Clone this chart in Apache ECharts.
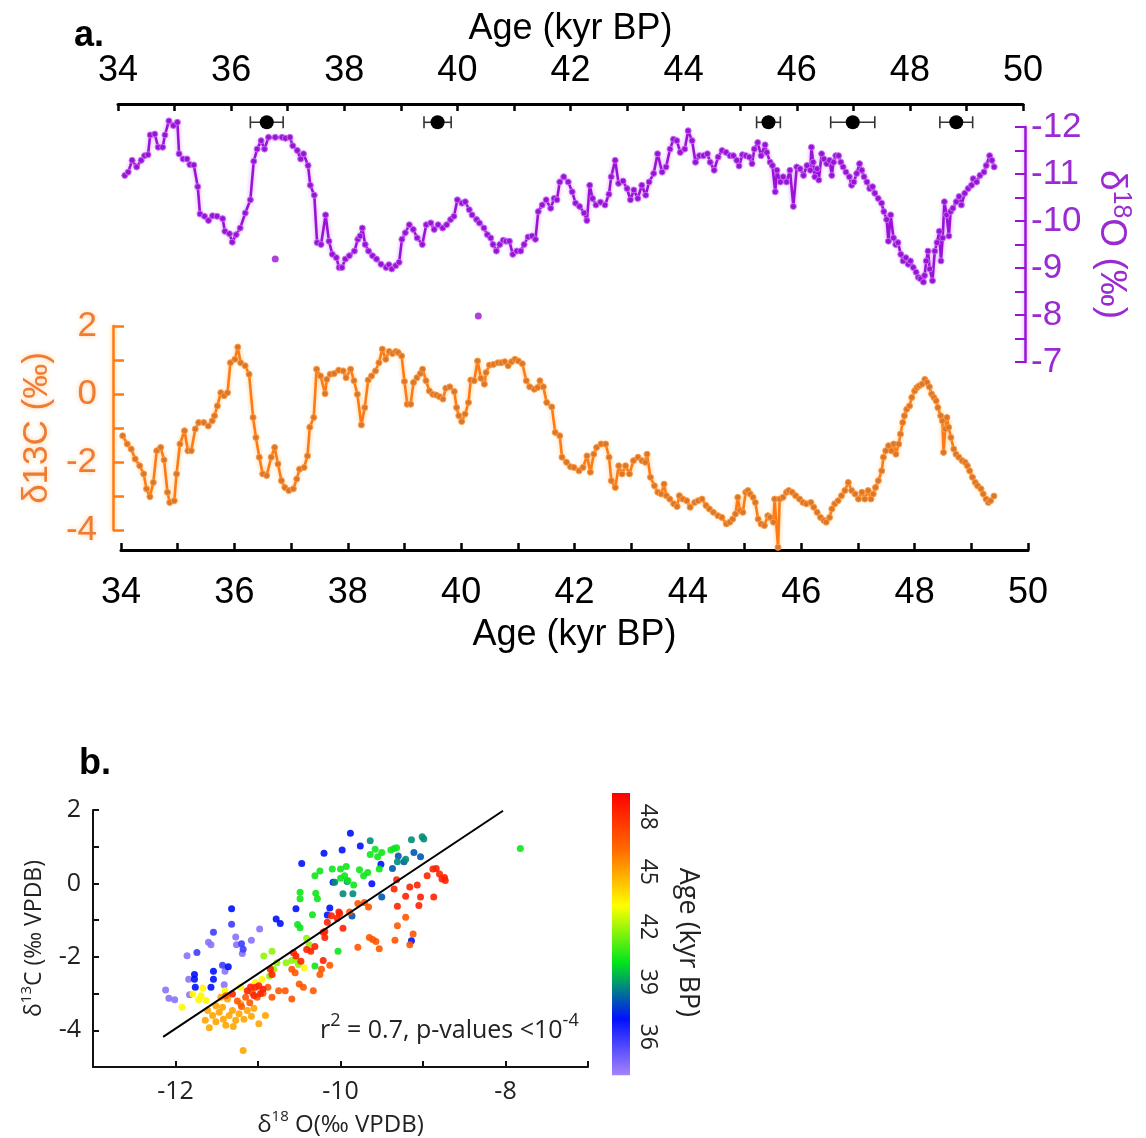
<!DOCTYPE html>
<html><head><meta charset="utf-8">
<script src="https://cdn.jsdelivr.net/npm/echarts@6/dist/echarts.min.js"></script>
<style>html,body{margin:0;padding:0;background:#fff}#c{width:1146px;height:1138px}</style>
</head><body><div id="c"></div>
<script>
// ---------- DATA ----------
// panel a: d18O (purple) time series
const o18Age = [34.12,34.18,34.25,34.33,34.41,34.47,34.53,34.57,34.65,34.71,34.79,34.83,34.90,34.98,35.05,35.08,35.15,35.22,35.27,35.34,35.41,35.45,35.53,35.60,35.67,35.75,35.85,35.89,35.97,36.02,36.09,36.16,36.25,36.34,36.40,36.46,36.53,36.59,36.66,36.78,36.90,36.96,37.04,37.09,37.17,37.23,37.28,37.36,37.40,37.47,37.52,37.59,37.67,37.73,37.79,37.86,37.91,37.96,38.02,38.09,38.18,38.24,38.28,38.32,38.37,38.43,38.50,38.57,38.65,38.74,38.79,38.84,38.91,38.97,39.02,39.08,39.15,39.22,39.29,39.38,39.45,39.53,39.59,39.66,39.74,39.81,39.88,39.94,40.00,40.08,40.14,40.21,40.26,40.34,40.39,40.47,40.53,40.59,40.63,40.69,40.75,40.81,40.86,40.92,40.98,41.05,41.12,41.18,41.25,41.32,41.38,41.43,41.50,41.57,41.65,41.71,41.76,41.81,41.88,41.96,42.03,42.09,42.16,42.24,42.29,42.34,42.39,42.45,42.53,42.61,42.68,42.72,42.79,42.85,42.93,43.00,43.06,43.12,43.19,43.26,43.33,43.39,43.47,43.54,43.62,43.69,43.76,43.82,43.88,43.94,44.02,44.08,44.15,44.21,44.28,44.35,44.42,44.47,44.54,44.61,44.68,44.75,44.82,44.88,44.94,44.98,45.04,45.10,45.16,45.21,45.25,45.31,45.37,45.44,45.47,45.53,45.57,45.62,45.65,45.71,45.76,45.82,45.88,45.94,46.00,46.06,46.12,46.18,46.24,46.26,46.29,46.32,46.36,46.39,46.44,46.48,46.53,46.58,46.62,46.65,46.69,46.74,46.78,46.82,46.87,46.93,46.97,47.01,47.06,47.11,47.15,47.19,47.24,47.29,47.34,47.38,47.44,47.50,47.54,47.59,47.62,47.66,47.71,47.75,47.79,47.84,47.88,47.93,47.97,48.01,48.06,48.11,48.15,48.19,48.24,48.26,48.29,48.32,48.35,48.40,48.44,48.48,48.52,48.55,48.58,48.61,48.65,48.69,48.72,48.76,48.82,48.87,48.91,48.97,49.03,49.09,49.12,49.18,49.24,49.31,49.35,49.41,49.45,49.49];
const o18Val = [-10.97,-11.04,-11.29,-11.15,-11.29,-11.39,-11.41,-11.83,-11.85,-11.57,-11.57,-11.83,-12.13,-12.03,-12.10,-11.43,-11.32,-11.32,-11.20,-11.19,-10.73,-10.15,-10.10,-10.01,-10.11,-10.10,-10.05,-9.78,-9.73,-9.55,-9.71,-9.85,-10.17,-10.45,-11.27,-11.53,-11.71,-11.53,-11.78,-11.78,-11.78,-11.76,-11.78,-11.60,-11.50,-11.32,-11.43,-11.18,-10.76,-10.55,-9.54,-9.50,-10.13,-9.57,-9.29,-9.22,-9.01,-9.01,-9.19,-9.26,-9.36,-9.61,-9.68,-9.85,-9.50,-9.36,-9.26,-9.19,-9.08,-9.01,-9.07,-8.98,-9.05,-9.12,-9.61,-9.75,-9.92,-9.82,-9.64,-9.50,-9.92,-9.96,-9.82,-9.92,-9.85,-9.92,-10.03,-10.10,-10.45,-10.38,-10.41,-10.24,-10.13,-10.03,-9.96,-9.85,-9.71,-9.64,-9.50,-9.36,-9.50,-9.59,-9.57,-9.57,-9.29,-9.36,-9.36,-9.50,-9.66,-9.68,-9.61,-10.20,-10.34,-10.45,-10.27,-10.48,-10.45,-10.83,-10.94,-10.83,-10.62,-10.38,-10.31,-10.17,-10.01,-10.76,-10.48,-10.34,-10.40,-10.34,-10.57,-10.94,-11.29,-10.80,-10.85,-10.69,-10.45,-10.66,-10.48,-10.76,-10.55,-10.83,-11.01,-11.43,-11.04,-11.15,-11.53,-11.74,-11.71,-11.46,-11.53,-11.92,-11.71,-11.25,-11.39,-11.39,-11.43,-11.25,-11.08,-11.36,-11.50,-11.46,-11.39,-11.39,-11.29,-11.17,-11.41,-11.39,-11.36,-11.22,-11.53,-11.67,-11.39,-11.62,-11.46,-11.25,-11.18,-10.62,-11.08,-10.83,-10.94,-10.83,-11.08,-10.31,-11.15,-11.11,-10.97,-11.18,-11.08,-11.57,-11.25,-10.94,-11.11,-10.87,-11.43,-11.32,-11.22,-11.29,-10.97,-11.25,-11.39,-11.39,-11.25,-11.15,-11.04,-10.94,-10.76,-10.83,-11.01,-11.22,-11.08,-10.94,-10.83,-10.69,-10.73,-10.59,-10.48,-10.38,-10.20,-10.03,-9.57,-10.13,-9.64,-9.50,-9.54,-9.29,-9.15,-9.22,-9.08,-9.15,-9.01,-8.91,-8.80,-8.77,-8.70,-8.84,-9.15,-9.36,-8.98,-8.73,-9.36,-9.54,-9.78,-9.15,-9.64,-10.41,-10.13,-9.68,-10.20,-10.27,-10.41,-10.52,-10.34,-10.59,-10.69,-10.76,-10.90,-10.83,-10.97,-11.04,-11.18,-11.39,-11.29,-11.15];
// isolated d18O samples (not joined to the line)
const o18OutAge = [36.78, 40.37];
const o18OutVal = [-9.19, -7.98];
// U-Th dated ages with 2-sigma errors
const datedAge = [36.63, 39.65, 45.50, 46.99, 48.82];
const datedErr = [0.29, 0.24, 0.21, 0.39, 0.29];
// panel a: d13C (orange) time series
const c13Age = [34.03,34.11,34.18,34.25,34.33,34.40,34.45,34.51,34.57,34.63,34.70,34.76,34.82,34.86,34.94,34.98,35.04,35.12,35.18,35.24,35.31,35.37,35.46,35.54,35.61,35.65,35.70,35.76,35.82,35.88,35.93,36.01,36.06,36.11,36.19,36.26,36.33,36.38,36.44,36.50,36.57,36.65,36.71,36.77,36.83,36.89,36.96,37.04,37.10,37.15,37.23,37.29,37.33,37.40,37.45,37.52,37.60,37.63,37.69,37.76,37.84,37.92,37.97,38.05,38.11,38.17,38.24,38.30,38.36,38.42,38.49,38.55,38.61,38.67,38.73,38.79,38.85,38.89,38.95,39.00,39.05,39.11,39.16,39.22,39.28,39.32,39.38,39.44,39.50,39.56,39.62,39.68,39.73,39.80,39.88,39.92,39.96,40.01,40.07,40.13,40.17,40.23,40.29,40.35,40.41,40.44,40.50,40.57,40.65,40.71,40.77,40.83,40.89,40.95,41.01,41.08,41.15,41.21,41.29,41.35,41.39,41.45,41.51,41.60,41.66,41.74,41.78,41.86,41.93,41.99,42.08,42.15,42.22,42.28,42.34,42.39,42.47,42.55,42.61,42.65,42.72,42.78,42.84,42.90,42.97,43.04,43.12,43.19,43.25,43.28,43.34,43.41,43.47,43.53,43.58,43.62,43.68,43.75,43.81,43.85,43.91,43.98,44.04,44.12,44.18,44.25,44.32,44.38,44.45,44.53,44.60,44.68,44.74,44.79,44.84,44.88,44.92,44.97,45.02,45.06,45.10,45.15,45.19,45.24,45.29,45.35,45.41,45.45,45.51,45.53,45.59,45.62,45.68,45.74,45.78,45.84,45.90,45.97,46.03,46.09,46.17,46.22,46.28,46.34,46.40,46.44,46.50,46.54,46.59,46.65,46.71,46.77,46.83,46.89,46.95,47.01,47.07,47.12,47.18,47.23,47.27,47.31,47.36,47.42,47.45,47.49,47.54,47.59,47.63,47.67,47.72,47.75,47.79,47.82,47.86,47.91,47.95,48.00,48.04,48.08,48.13,48.18,48.22,48.26,48.30,48.34,48.38,48.41,48.46,48.49,48.51,48.54,48.57,48.60,48.64,48.69,48.73,48.78,48.84,48.89,48.93,48.97,49.02,49.07,49.11,49.17,49.21,49.26,49.30,49.34,49.40];
const c13Val = [-1.23,-1.47,-1.62,-1.91,-2.11,-2.35,-2.79,-3.02,-2.60,-1.67,-1.57,-1.94,-2.89,-3.19,-3.14,-2.35,-1.47,-1.08,-1.67,-1.67,-1.03,-0.84,-0.84,-0.94,-0.79,-0.64,-0.35,0.04,-0.05,0.04,0.92,1.02,1.38,0.92,0.83,0.58,-0.69,-1.28,-1.86,-2.35,-2.40,-1.86,-1.57,-2.06,-2.55,-2.75,-2.84,-2.79,-2.50,-2.21,-2.16,-1.82,-0.98,-0.69,0.73,0.53,0.01,0.43,0.58,0.60,0.70,0.68,0.48,0.73,0.39,-0.01,-0.91,-0.40,0.41,0.53,0.68,0.92,1.32,1.02,1.25,1.19,1.25,1.22,1.12,0.37,-0.30,-0.30,0.34,0.48,0.60,0.73,0.39,0.09,-0.01,-0.03,-0.08,-0.15,0.17,0.21,0.07,-0.40,-0.64,-0.81,-0.59,-0.25,0.41,0.39,0.97,0.46,0.29,0.63,0.85,0.87,0.92,0.92,0.95,0.83,0.95,1.02,0.97,0.89,0.39,0.21,0.14,0.19,0.39,0.21,-0.25,-0.38,-1.13,-1.23,-1.86,-2.01,-2.14,-2.16,-2.26,-2.16,-1.82,-2.30,-1.77,-1.57,-1.47,-1.47,-1.86,-2.55,-2.75,-2.11,-2.35,-2.11,-2.35,-1.96,-1.86,-1.96,-2.01,-1.77,-2.45,-2.70,-2.89,-2.94,-2.65,-2.99,-3.09,-3.23,-3.31,-2.99,-3.09,-3.14,-3.33,-3.19,-3.14,-3.09,-3.28,-3.38,-3.48,-3.58,-3.63,-3.82,-3.77,-3.68,-3.53,-3.04,-3.43,-3.48,-2.89,-2.84,-2.94,-3.04,-3.19,-3.68,-3.82,-3.87,-3.58,-3.63,-3.77,-3.09,-4.51,-3.09,-3.04,-2.89,-2.84,-2.89,-2.99,-3.09,-3.19,-3.23,-3.19,-3.33,-3.48,-3.63,-3.72,-3.77,-3.63,-3.38,-3.23,-3.14,-2.99,-2.84,-2.60,-2.84,-2.94,-3.09,-2.89,-3.09,-2.84,-3.09,-2.94,-2.75,-2.55,-2.26,-1.86,-1.67,-1.52,-1.67,-1.47,-1.77,-1.47,-1.18,-0.84,-0.64,-0.45,-0.35,-0.10,0.09,0.19,0.24,0.29,0.43,0.34,0.21,0.00,-0.10,-0.20,-0.40,-0.64,-0.79,-1.72,-1.03,-0.69,-0.98,-1.28,-1.62,-1.77,-1.86,-1.96,-2.01,-2.11,-2.26,-2.45,-2.60,-2.70,-2.79,-2.94,-3.09,-3.19,-3.14,-3.00];
// panel b: scatter d18O (x), d13C (y), age (colour)
const scO18 = [-12.12,-12.08,-12.01,-11.86,-11.84,-11.83,-11.60,-11.57,-11.41,-11.40,-11.27,-11.26,-11.19,-11.08,-10.98,
 -11.32,-11.74,-11.54,-11.43,-11.20,-11.18,
 -11.77,-11.77,-11.76,-11.54,-11.54,-11.57,-11.36,-11.32,-10.78,-10.73,-10.54,-10.47,-10.20,-10.13,-10.16,-10.09,-9.98,-9.88,-9.76,-9.62,-9.51,-9.14,
 -9.37,-9.30,-9.23,-9.03,-9.11,-9.86,-9.50,
 -9.64,-9.14,-9.01,-8.99,-9.97,-9.85,-10.07,-9.31,-9.21,-9.92,
 -10.31,-10.25,-10.10,-10.00,-9.93,-9.95,-10.00,-9.91,-9.84,-9.77,-9.72,-9.67,-9.64,-9.58,-9.55,-9.50,-9.39,-9.35,-9.32,-10.49,-10.49,-10.30,-10.28,-10.34,-10.52,-10.49,-10.03,-10.31,-7.82,-9.53,
 -10.93,-10.83,-10.77,-10.66,-10.59,-10.51,-10.41,-10.38,-10.54,-10.81,-10.86,
 -11.92,-11.79,-11.69,-11.67,-11.72,-11.63,-11.40,-11.21,-11.03,-10.95,-10.44,
 -11.61,-11.64,-11.59,-11.51,-11.47,-11.43,-11.39,-11.35,-11.31,-11.27,-11.23,-11.21,-11.18,-11.13,-11.08,-10.99,-10.91,-11.37,-11.51,-11.45,-11.55,-11.42,-11.30,-11.17,-11.05,
 -11.39,-11.15,-11.07,-11.01,-10.94,-10.88,-10.83,-10.75,-10.67,-10.59,-10.50,-10.45,-10.33,-10.25,-10.23,-10.13,-10.59,-10.55,-9.79,-9.65,-9.61,-9.57,-9.53,-9.34,-9.31,-9.21,-9.16,-9.12,-9.66,-9.71,-9.79,-9.89,-11.25,-11.20,-11.10,
 -11.31,-11.13,-11.09,-11.03,-10.99,-10.94,-10.85,-10.83,-10.57,-10.54,-10.48,-10.41,-10.36,-10.31,-10.21,-10.19,-10.19,-10.16,-10.11,-10.02,-9.97,-10.04,-10.01,-9.31,-9.21,-9.16,-9.07,-9.03,-9.05,-8.95,-8.88,-8.84,-8.80,-8.77,-8.74,-8.73,-8.87,-9.32,-9.35,-10.21,-11.05,-10.97];
const scC13 = [-2.90,-3.13,-3.17,-1.97,-2.61,-3.03,-1.60,-1.67,-2.76,-2.39,-1.46,-1.67,-1.91,-1.55,-1.24,
 -1.11,-1.88,-1.33,-2.23,-1.64,-1.79,
 -2.48,-2.61,-2.83,-2.39,-2.61,-2.83,-2.27,-0.69,-0.97,-1.09,-0.69,0.54,0.82,-0.67,-0.86,0.03,0.91,1.37,1.02,-0.01,0.52,-1.56,
 0.41,0.75,0.59,0.73,0.84,-0.89,-0.37,
 1.16,1.19,1.27,1.21,-0.28,-0.28,0.03,0.59,0.66,0.05,
 0.21,0.34,0.39,0.39,0.46,0.21,0.14,0.08,-0.04,0.37,0.21,0.30,0.79,0.93,0.73,0.84,0.91,0.95,0.97,-0.24,-0.42,-0.27,-0.42,-0.85,-1.12,-1.21,-1.85,-2.25,0.95,0.39,
 -1.98,-1.85,-2.16,-2.16,-2.10,-2.21,-1.49,-1.67,-2.07,-2.34,-2.52,
 -3.37,-3.01,-3.06,-2.85,-3.17,-3.19,-2.92,-2.83,-2.70,-2.61,-2.30,
 -3.46,-3.73,-3.93,-3.77,-3.51,-3.37,-3.86,-3.60,-3.46,-3.73,-3.55,-3.28,-4.55,-3.46,-3.62,-3.82,-3.60,-3.15,-3.33,-3.10,-3.60,-3.70,-3.90,-3.70,-3.40,
 -3.06,-3.10,-2.97,-3.10,-2.99,-2.83,-3.10,-2.92,-2.92,-3.15,-2.74,-2.83,-2.92,-2.48,-2.34,-2.23,-2.34,-2.43,-1.74,-1.47,-1.53,-1.58,-1.78,-1.55,-1.15,-0.92,-1.67,-1.38,-0.64,-0.52,-0.55,-0.78,-3.20,-3.35,-3.25,
 -3.01,-2.92,-2.82,-2.83,-2.79,-2.88,-2.34,-2.48,-1.89,-1.98,-2.12,-1.80,-1.85,-1.72,-1.33,-1.47,-1.31,-1.06,-0.88,-0.78,-1.22,-0.95,-0.82,-0.62,-0.35,-0.10,-0.04,-0.37,-0.60,0.21,0.39,0.41,0.26,0.12,0.16,0.08,-0.37,0.10,-0.15,-2.10,-3.05,-3.00];
const scAgeGroups = [[34.4,15],[35.8,6],[37.0,22],[38.0,7],[38.8,10],[40.2,30],[41.8,11],[43.3,11],[45.0,25],[46.8,35],[48.3,42]];
const scAge = [];
scAgeGroups.forEach(g => { for (let i = 0; i < g[1]; i++) scAge.push(g[0]); });
// regression line end points
const fitO18 = [-12.15, -8.03];
const fitC13 = [-4.18, 1.98];
// colour bar
const cbarRange = [33.9, 49.3];
const cbarTicks = [36, 39, 42, 45, 48];

// ---------- STYLE ----------
const F = '"Liberation Sans", Arial, sans-serif';
const FB = '"Open Sans", "Liberation Sans", sans-serif';
const PURPLE = '#9a12d6';
const PURPLE_TXT = '#9a2bd2';
const ORANGE = '#ff7a12';
const ORANGE_TXT = '#f07c34';
const CBAR = ['#a585fb', '#0010ff', '#00e61a', '#ffff00', '#ff6a00', '#ff0000'];

const chart = echarts.init(document.getElementById('c'), null, {renderer: 'canvas'});
const evenOnly = v => (Math.abs(v % 2) < 1e-6 ? String(v) : '');
const intOnly = v => (Math.abs(v - Math.round(v)) < 1e-6 ? String(Math.round(v)) : '');

const option = {
  animation: false,
  backgroundColor: '#fff',
  grid: [
    {left: 118, top: 127, width: 905, height: 235},
    {left: 121, top: 326, width: 907, height: 204},
    {left: 93, top: 810, width: 495, height: 262},
    {left: 612, top: 793, width: 18, height: (49.3 - 33) * 18.33}
  ],
  xAxis: [
    {gridIndex: 0, type: 'value', position: 'top', min: 34, max: 50, interval: 1, offset: 23,
      axisLine: {onZero: false, lineStyle: {color: '#000', width: 3}},
      axisTick: {inside: true, length: 7, lineStyle: {color: '#000', width: 2.5}},
      axisLabel: {interval: 0, formatter: evenOnly, fontSize: 36, fontFamily: F, color: '#000', margin: 15},
      splitLine: {show: false},
      name: 'Age (kyr BP)', nameLocation: 'middle', nameGap: 57,
      nameTextStyle: {fontSize: 36, fontFamily: F, color: '#000'}},
    {gridIndex: 1, type: 'value', position: 'bottom', min: 34, max: 50, interval: 1, offset: 20,
      axisLine: {onZero: false, lineStyle: {color: '#000', width: 3}},
      axisTick: {inside: true, length: 7, lineStyle: {color: '#000', width: 2.5}},
      axisLabel: {interval: 0, formatter: evenOnly, fontSize: 36, fontFamily: F, color: '#000', margin: 25},
      splitLine: {show: false},
      name: 'Age (kyr BP)', nameLocation: 'middle', nameGap: 67,
      nameTextStyle: {fontSize: 36, fontFamily: F, color: '#000'}},
    {gridIndex: 2, type: 'value', min: -13, max: -7, interval: 1,
      axisLine: {onZero: false, lineStyle: {color: '#111', width: 2}},
      axisTick: {inside: true, length: 6, lineStyle: {color: '#111', width: 2}},
      axisLabel: {interval: 0, formatter: evenOnly, fontSize: 25, fontFamily: FB, color: '#222', margin: 12},
      splitLine: {show: false},
      name: '{n|δ}{s|18}{n| O(‰ VPDB)}', nameLocation: 'middle', nameGap: 42,
      nameTextStyle: {fontFamily: FB, color: '#222', rich: {
        n: {fontSize: 24, fontFamily: FB, color: '#222', lineHeight: 28, verticalAlign: 'bottom'},
        s: {fontSize: 15, fontFamily: FB, color: '#222', lineHeight: 17, verticalAlign: 'top'}}}},
    {gridIndex: 3, type: 'value', min: 0, max: 1, show: false}
  ],
  yAxis: [
    {gridIndex: 0, type: 'value', position: 'right', min: -12, max: -7, interval: 0.5, inverse: true, offset: 2,
      axisLine: {onZero: false, lineStyle: {color: PURPLE, width: 2.5, shadowColor: 'rgba(200,120,255,0.7)', shadowBlur: 4}},
      axisTick: {inside: true, length: 10, lineStyle: {color: PURPLE, width: 2}},
      axisLabel: {interval: 0, formatter: intOnly, fontSize: 35, fontFamily: F, color: PURPLE_TXT, margin: 6},
      splitLine: {show: false},
      name: '{n|δ}{s|18}{n|O (‰)}', nameLocation: 'middle', nameRotate: -90, nameGap: 68,
      nameTextStyle: {fontFamily: F, color: PURPLE_TXT, rich: {
        n: {fontSize: 37, fontFamily: F, color: PURPLE_TXT, lineHeight: 40, verticalAlign: 'bottom'},
        s: {fontSize: 25, fontFamily: F, color: PURPLE_TXT, lineHeight: 26, verticalAlign: 'top'}}}},
    {gridIndex: 1, type: 'value', position: 'left', min: -4, max: 2, interval: 1, offset: 8,
      axisLine: {onZero: false, lineStyle: {color: ORANGE, width: 2.5, shadowColor: 'rgba(255,190,110,0.9)', shadowBlur: 5}},
      axisTick: {inside: true, length: 11, lineStyle: {color: ORANGE, width: 2.5}},
      axisLabel: {interval: 0, formatter: evenOnly, fontSize: 35, fontFamily: F, color: ORANGE_TXT, margin: 16,
        textShadowColor: 'rgba(255,200,140,0.9)', textShadowBlur: 5},
      splitLine: {show: false},
      name: 'δ13C (‰)', nameLocation: 'middle', nameRotate: 90, nameGap: 55,
      nameTextStyle: {fontSize: 35, fontFamily: F, color: ORANGE_TXT, textShadowColor: 'rgba(255,200,140,0.9)', textShadowBlur: 5}},
    {gridIndex: 2, type: 'value', min: -5, max: 2, interval: 1,
      axisLine: {onZero: false, lineStyle: {color: '#111', width: 2}},
      axisTick: {inside: true, length: 6, lineStyle: {color: '#111', width: 2}},
      axisLabel: {interval: 0, formatter: evenOnly, fontSize: 25, fontFamily: FB, color: '#222', margin: 12},
      splitLine: {show: false},
      name: '{n|δ}{s|13}{n|C (‰ VPDB)}', nameLocation: 'middle', nameRotate: 90, nameGap: 47,
      nameTextStyle: {fontFamily: FB, color: '#222', rich: {
        n: {fontSize: 23, fontFamily: FB, color: '#222', lineHeight: 27, verticalAlign: 'bottom'},
        s: {fontSize: 15, fontFamily: FB, color: '#222', lineHeight: 17, verticalAlign: 'top'}}}},
    {gridIndex: 3, type: 'value', position: 'right', min: 33, max: 49.3, interval: 3,
      axisLine: {show: false}, axisTick: {show: false}, splitLine: {show: false},
      axisLabel: {interval: 0, rotate: -90, formatter: v => (cbarTicks.indexOf(Math.round(v)) >= 0 && Math.abs(v - Math.round(v)) < 1e-6 ? String(v) : ''),
        fontSize: 23, fontFamily: FB, color: '#222', margin: 6},
      name: 'Age (kyr BP)', nameLocation: 'middle', nameRotate: -90, nameGap: 44,
      nameTextStyle: {fontSize: 27, fontFamily: FB, color: '#222'}}
  ],
  visualMap: {
    type: 'continuous', show: false, seriesIndex: 6, dimension: 2,
    min: cbarRange[0], max: cbarRange[1], inRange: {color: CBAR}
  },
  graphic: [
    {type: 'text', left: 74, top: 18, style: {text: 'a.', fontSize: 36, fontWeight: 'bold', fontFamily: F, fill: '#000'}},
    {type: 'text', left: 79, top: 746, style: {text: 'b.', fontSize: 36, fontWeight: 'bold', fontFamily: F, fill: '#000'}},
    {type: 'text', left: 320, top: 1012, style: {
      text: '{a|r}{s|2}{a| = 0.7, p-values <10}{s|-4}',
      rich: {a: {fontSize: 25, fontFamily: FB, fill: '#222', lineHeight: 31, verticalAlign: 'bottom'},
             s: {fontSize: 18, fontFamily: FB, fill: '#222', lineHeight: 20, verticalAlign: 'top'}}}}
  ],
  series: [
    {type: 'line', xAxisIndex: 0, yAxisIndex: 0, clip: false,
      data: o18Age.map((a, i) => [a, o18Val[i]]),
      symbol: 'circle', symbolSize: 6, showSymbol: true,
      lineStyle: {color: PURPLE, width: 2.6, shadowColor: 'rgba(205,130,255,0.8)', shadowBlur: 4},
      itemStyle: {color: PURPLE, borderColor: '#c070f0', borderWidth: 1}},
    {type: 'scatter', xAxisIndex: 0, yAxisIndex: 0, clip: false,
      data: o18OutAge.map((a, i) => [a, o18OutVal[i]]),
      symbolSize: 7, itemStyle: {color: PURPLE}},
    {type: 'custom', xAxisIndex: 0, yAxisIndex: 0, clip: false,
      data: datedAge.map((a, i) => [a, datedErr[i]]),
      renderItem: (p, api) => {
        const a = api.value(0), e = api.value(1);
        const c = api.coord([a, -12.1]);
        const l = api.coord([a - e, -12.1]);
        const r = api.coord([a + e, -12.1]);
        const st = {stroke: '#333', lineWidth: 1.6};
        return {type: 'group', children: [
          {type: 'line', shape: {x1: l[0], y1: c[1], x2: r[0], y2: c[1]}, style: st},
          {type: 'line', shape: {x1: l[0], y1: c[1] - 6, x2: l[0], y2: c[1] + 6}, style: st},
          {type: 'line', shape: {x1: r[0], y1: c[1] - 6, x2: r[0], y2: c[1] + 6}, style: st},
          {type: 'circle', shape: {cx: c[0], cy: c[1], r: 7}, style: {fill: '#000'}}
        ]};
      }},
    {type: 'line', xAxisIndex: 1, yAxisIndex: 1, clip: false,
      data: c13Age.map((a, i) => [a, c13Val[i]]),
      symbol: 'circle', symbolSize: 6, showSymbol: true,
      lineStyle: {color: ORANGE, width: 2.6, shadowColor: 'rgba(255,190,110,0.9)', shadowBlur: 4},
      itemStyle: {color: '#d9772c', borderColor: '#ff9a40', borderWidth: 1}},
    {type: 'custom', xAxisIndex: 3, yAxisIndex: 3, clip: false,
      data: [[0, cbarRange[0], cbarRange[1]]],
      renderItem: (p, api) => {
        const tl = api.coord([0, api.value(2)]);
        const br = api.coord([1, api.value(1)]);
        const n = CBAR.length;
        return {type: 'rect', shape: {x: tl[0], y: tl[1], width: br[0] - tl[0], height: br[1] - tl[1]},
          style: {fill: new echarts.graphic.LinearGradient(0, 1, 0, 0,
            CBAR.map((c, i) => ({offset: i / (n - 1), color: c})))}};
      }},
    {type: 'line', xAxisIndex: 2, yAxisIndex: 2, clip: false,
      data: fitO18.map((x, i) => [x, fitC13[i]]),
      showSymbol: false, symbol: 'none', lineStyle: {color: '#000', width: 2}},
    {type: 'scatter', xAxisIndex: 2, yAxisIndex: 2, clip: false,
      data: scO18.map((x, i) => [x, scC13[i], scAge[i]]),
      symbolSize: 7, itemStyle: {opacity: 0.9}}
  ]
};
chart.setOption(option);
</script>
</body></html>
